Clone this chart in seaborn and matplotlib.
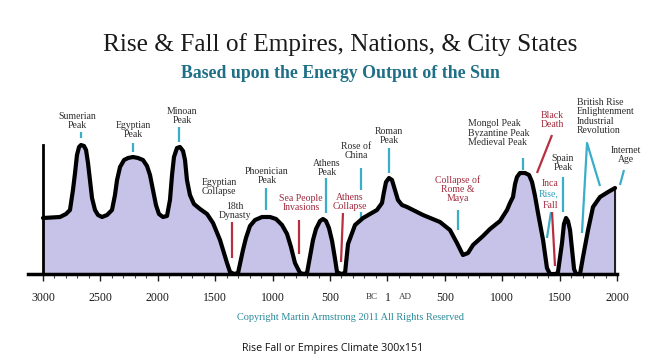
import numpy as np
import pandas as pd
import seaborn as sns
import matplotlib.pyplot as plt

# solar energy curve (relative level), year < 0 is BC
years = [-3000, -2852, -2800, -2765, -2739, -2721, -2704, -2686, -2669, -2643,
         -2625, -2608, -2591, -2573, -2547, -2521, -2486, -2442, -2399, -2373,
         -2355, -2329, -2294, -2259, -2216, -2172, -2129, -2094, -2068, -2042,
         -2016, -1990, -1955, -1920, -1894, -1876, -1859, -1833, -1807, -1780,
         -1763, -1746, -1720, -1685, -1632, -1571, -1519, -1458, -1397, -1371,
         -1336, -1301, -1258, -1232, -1197, -1153, -1092, -1022, -970, -918,
         -874, -840, -805, -761, -726, -700, -648, -622, -587, -561,
         -535, -509, -482, -456, -439, -404, -369, -343, -282, -212,
         -91, -47, -30, -12, 14, 40, 66, 92, 127, 171,
         310, 458, 545, 606, 658, 702, 746, 833, 894, 981,
         1042, 1068, 1094, 1112, 1129, 1155, 1199, 1234, 1260, 1286,
         1312, 1356, 1390, 1416, 1469, 1486, 1521, 1538, 1556, 1573,
         1591, 1608, 1626, 1643, 1678, 1704, 1748, 1791, 1852, 1922,
         1983]
energy = [56, 57, 60, 64, 84, 101, 119, 127, 129, 128,
          124, 111, 94, 76, 64, 59, 57, 59, 64, 79,
          94, 107, 114, 116, 117, 116, 114, 108, 99, 84,
          69, 60, 57, 58, 74, 99, 117, 126, 127, 123,
          114, 94, 79, 70, 65, 60, 51, 34, 11, 2,
          0, 1, 24, 36, 48, 54, 57, 57, 55, 49,
          40, 27, 11, 1, 0, 1, 34, 45, 53, 55,
          53, 46, 33, 15, 2, 0, 1, 30, 49, 56,
          64, 71, 82, 92, 96, 94, 84, 74, 69, 67,
          59, 52, 44, 31, 19, 21, 29, 38, 45, 53,
          64, 71, 77, 90, 97, 101, 101, 99, 92, 78,
          61, 34, 6, 0, 0, 2, 31, 50, 56, 53,
          44, 25, 5, 0, 0, 17, 44, 67, 77, 82,
          86]

major_ticks = [-3000, -2500, -2000, -1500, -1000, -500, 0, 500, 1000, 1500, 2000]
tick_labels = ["3000", "2500", "2000", "1500", "1000", "500", "1", "500", "1000", "1500", "2000"]

# annotations: text, year, level, colour, alignment
labels = [
    ("Sumerian\nPeak", -2704, 153, "#2b2b2b", "center"),
    ("Egyptian\nPeak", -2216, 144, "#2b2b2b", "center"),
    ("Minoan\nPeak", -1789, 158, "#2b2b2b", "center"),
    ("Egyptian\nCollapse", -1467, 87, "#2b2b2b", "center"),
    ("18th\nDynasty", -1327, 63, "#2b2b2b", "center"),
    ("Phoenician\nPeak", -1049, 98, "#2b2b2b", "center"),
    ("Sea People\nInvasions", -753, 71, "#a02a3c", "center"),
    ("Athens\nPeak", -526, 106, "#2b2b2b", "center"),
    ("Rose of\nChina", -273, 123, "#2b2b2b", "center"),
    ("Athens\nCollapse", -326, 72, "#a02a3c", "center"),
    ("Roman\nPeak", 14, 138, "#2b2b2b", "center"),
    ("Collapse of\nRome &\nMaya", 615, 85, "#a02a3c", "center"),
    ("Mongol Peak\nByzantine Peak\nMedieval Peak", 702, 141, "#2b2b2b", "left"),
    ("Black\nDeath", 1434, 154, "#a02a3c", "center"),
    ("Inca", 1416, 91, "#a02a3c", "center"),
    ("Rise,", 1408, 80, "#2f9fb8", "center"),
    ("Fall", 1425, 69, "#a02a3c", "center"),
    ("Spain\nPeak", 1530, 111, "#2b2b2b", "center"),
    ("British Rise\nEnlightenment\nIndustrial\nRevolution", 1652, 157.5, "#2b2b2b", "left"),
    ("Internet\nAge", 2079, 119, "#2b2b2b", "center"),
]

# pointer lines: years, levels, colour
pointers = [
    ([-2669, -2669], [136, 142], "teal"),
    ([-2216, -2216], [122, 131], "teal"),
    ([-1815, -1815], [132, 147], "teal"),
    ([-1354, -1354], [16, 52], "red"),
    ([-1057, -1057], [64, 86], "teal"),
    ([-770, -770], [20, 54], "red"),
    ([-535, -535], [61, 96], "teal"),
    ([-230, -230], [84, 106], "teal"),
    ([-230, -230], [56, 62], "teal"),
    ([-387, -404], [61, 12], "red"),
    ([14, 14], [101, 126], "teal"),
    ([615, 615], [44, 64], "teal"),
    ([1181, 1181], [104, 116], "teal"),
    ([1434, 1303], [139, 101], "red"),
    ([1425, 1390], [62, 36], "teal"),
    ([1434, 1460], [62, 8], "red"),
    ([1530, 1530], [62, 97], "teal"),
    ([1695, 1739, 1852], [41, 131, 88], "teal"),
    ([2061, 2026], [104, 89], "teal"),
]
line_colors = {"teal": "#3aaec8", "red": "#b8303f"}

df = pd.DataFrame({"year": years, "energy": energy})

sns.set_style("white")
plt.rcParams["font.family"] = ["Liberation Serif", "DejaVu Serif"]

fig = plt.figure(figsize=(6.54, 3.59), dpi=100)
ax = fig.add_axes([0, 0, 1, 1])

ax.fill_between(df["year"], df["energy"], color="#c6c2e8", zorder=1)
sns.lineplot(data=df, x="year", y="energy", sort=False, color="black",
             linewidth=3, solid_joinstyle="round", ax=ax, zorder=3)
ax.vlines(years[-1], 0, energy[-1], color="black", linewidth=1.2, zorder=3)

ax.set_xlim(-3374.6, 2322.4)
ax.set_ylim(-85, 274)

for s in ["top", "right"]:
    ax.spines[s].set_visible(False)
ax.spines["left"].set_position(("data", -3000))
ax.spines["left"].set_bounds(0, 129)
ax.spines["left"].set_linewidth(2)
ax.spines["bottom"].set_position(("data", 0))
ax.spines["bottom"].set_bounds(-3131, 2000)
ax.spines["bottom"].set_linewidth(2.5)
for s in ax.spines.values():
    s.set_color("black")
    s.set_zorder(4)

ax.set_yticks([])
ax.set_xticks(major_ticks)
ax.set_xticklabels(tick_labels)
ax.set_xticks(np.arange(-3000, 2001, 100), minor=True)
ax.tick_params(axis="x", which="major", direction="out", length=5, width=1,
               pad=8, labelsize=8.5, colors="#1a1a1a", bottom=True)
ax.tick_params(axis="x", which="minor", direction="out", length=3, width=0.8,
               color="#444444", bottom=True)
ax.set_xlabel("")
ax.set_ylabel("")

ax.text(-140, -23, "BC", fontsize=6.5, ha="center", va="center", color="#333333")
ax.text(160, -23, "AD", fontsize=6.5, ha="center", va="center", color="#333333")

for xs, ys, c in pointers:
    ax.plot(xs, ys, color=line_colors[c], linewidth=1.6, solid_capstyle="butt", zorder=2)

for txt, x, y, c, ha in labels:
    ax.text(x, y, txt, color=c, fontsize=7, ha=ha, va="center",
            multialignment=ha, linespacing=1.05, zorder=5)

fig.text(0.52, 1 - 45 / 359, "Rise & Fall of Empires, Nations, & City States",
         fontsize=18.2, ha="center", va="center", color="#1a1a1a")
fig.text(0.52, 1 - 73 / 359, "Based upon the Energy Output of the Sun",
         fontsize=12.8, fontweight="bold", ha="center", va="center", color="#1f6f86")
fig.text(350 / 654, 1 - 318 / 359, "Copyright Martin Armstrong 2011 All Rights Reserved",
         fontsize=7.4, ha="center", va="center", color="#2a8a9a")
fig.text(333 / 654, 1 - 349 / 359, "Rise Fall or Empires Climate 300x151",
         fontsize=7.7, ha="center", va="center", color="#111111", family="Open Sans")

fig.savefig("out.png", dpi=100)
